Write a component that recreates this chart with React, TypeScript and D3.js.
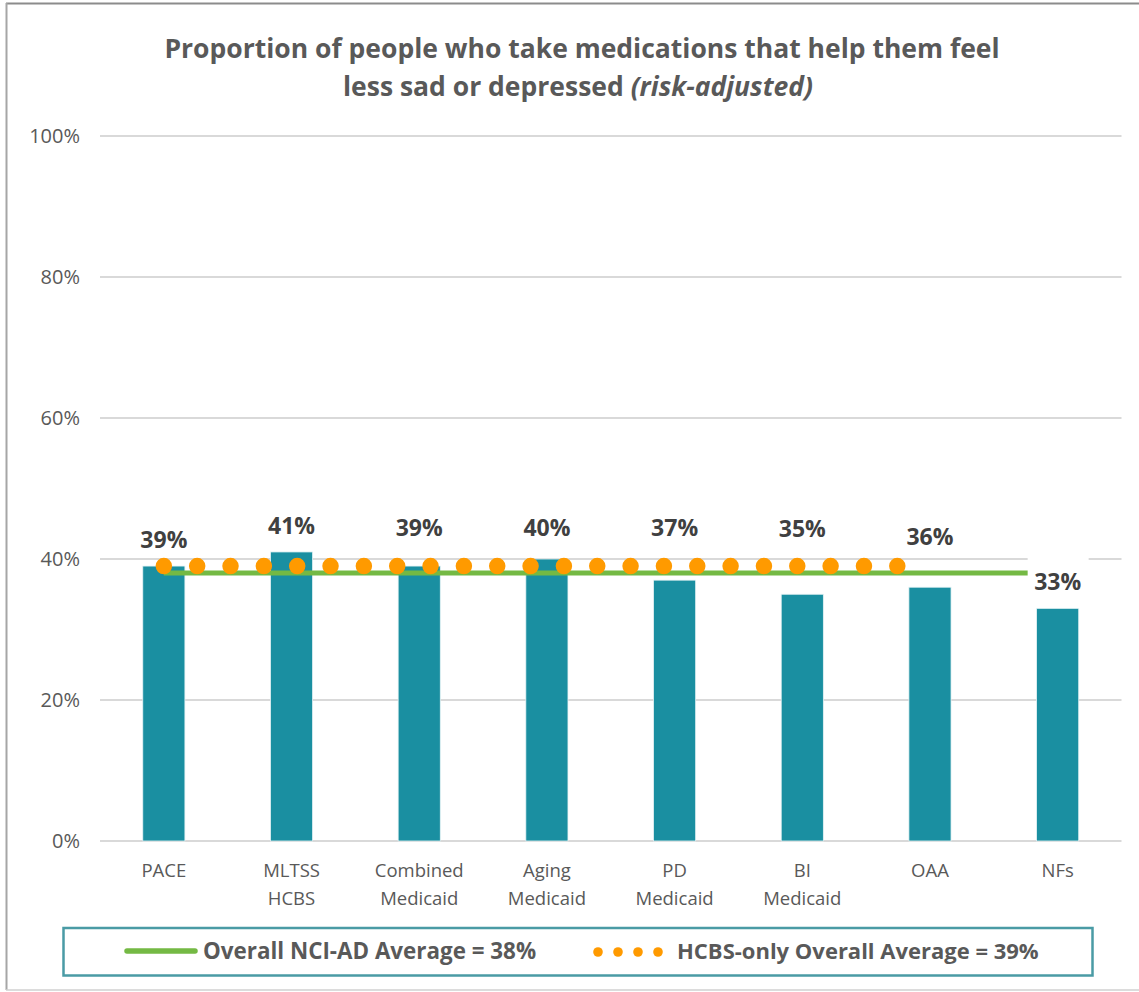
import React from "react";
import * as d3 from "d3";

// ---------- data ----------
const categories: string[][] = [
  ["PACE"],
  ["MLTSS", "HCBS"],
  ["Combined", "Medicaid"],
  ["Aging", "Medicaid"],
  ["PD", "Medicaid"],
  ["BI", "Medicaid"],
  ["OAA"],
  ["NFs"],
];
const values: number[] = [0.39, 0.41, 0.39, 0.4, 0.37, 0.35, 0.36, 0.33];
const overallAverage = 0.38;
const hcbsAverage = 0.39;
const hcbsCategoryCount = 7; // HCBS-only line spans PACE..OAA
const yTicks: number[] = [0, 0.2, 0.4, 0.6, 0.8, 1.0];
const titleLines = ["Proportion of people who take medications that help them feel", "less sad or depressed "];
const titleItalic = "(risk-adjusted)";
const legendLabels = ["Overall NCI-AD Average = 38%", "HCBS-only Overall Average = 39%"];

// ---------- layout / style ----------
const W = 1139;
const H = 992;
const plot = { left: 100, right: 1121.5, top: 136, bottom: 841 };
const BAR = "#1A8FA1";
const GREEN = "#74B944";
const ORANGE = "#FF9A00";
const GRID = "#D9D9D9";
const TEXT = "#595959";
const LABEL = "#404040";
const FONT = "'Open Sans', 'DejaVu Sans', sans-serif";
// manual label nudges (px) like the source chart, to keep labels clear of the lines
const labelNudge = [0, 0, -12, -5, -26, -39, -24, 0];

export default function App() {
  const keys = categories.map((c) => c.join(" "));
  const x = d3.scaleBand<string>().domain(keys).range([plot.left, plot.right]).padding(0);
  const y = d3.scaleLinear().domain([0, 1]).range([plot.bottom, plot.top]);
  const step = x.bandwidth();
  const barW = step * 0.33;
  const cx = (i: number) => (x(keys[i]) as number) + step / 2;

  const lastIdx = keys.length - 1;
  const dotEnd = cx(hcbsCategoryCount - 1) - 16;

  return (
    <div style={{ position: "absolute", left: 0, top: 0 }}>
      <svg width={W} height={H} style={{ display: "block", fontFamily: FONT }}>
        <rect x={0} y={0} width={W} height={H} fill="#fff" />
        {/* outer frame */}
        <line x1={6} x2={W} y1={3.5} y2={3.5} stroke="#8C8C8C" strokeWidth={2} />
        <line x1={6.5} x2={6.5} y1={3} y2={990} stroke="#A6A6A6" strokeWidth={2} />
        <line x1={6} x2={W} y1={990} y2={990} stroke="#D0D0D0" strokeWidth={1.5} />

        {/* title */}
        <text x={582} y={58} textAnchor="middle" fontSize={26.5} fontWeight={700} fill={TEXT}>
          {titleLines[0]}
        </text>
        <text x={578} y={96} textAnchor="middle" fontSize={26.5} fontWeight={700} fill={TEXT}>
          {titleLines[1]}
          <tspan fontStyle="italic">{titleItalic}</tspan>
        </text>

        {/* grid + y ticks */}
        {yTicks.map((t) => (
          <g key={t}>
            <line x1={plot.left} x2={plot.right} y1={y(t)} y2={y(t)} stroke={GRID} strokeWidth={2} />
            <text x={80} y={y(t) + 7} textAnchor="end" fontSize={20} fill={TEXT}>
              {d3.format(".0%")(t)}
            </text>
          </g>
        ))}

        {/* bars */}
        {values.map((v, i) => (
          <rect
            key={keys[i]}
            x={cx(i) - barW / 2}
            y={y(v)}
            width={barW}
            height={y(0) - y(v)}
            fill={BAR}
            stroke="#E6F3F5"
            strokeWidth={0.8}
          />
        ))}

        {/* overall average line */}
        <line x1={cx(0)} x2={cx(lastIdx)} y1={y(overallAverage)} y2={y(overallAverage)} stroke={GREEN} strokeWidth={5} />

        {/* HCBS-only dotted line */}
        <line
          x1={cx(0)}
          x2={dotEnd}
          y1={y(hcbsAverage)}
          y2={y(hcbsAverage)}
          stroke={ORANGE}
          strokeWidth={16.5}
          strokeLinecap="round"
          strokeDasharray={`0 ${(step / 3.83).toFixed(3)}`}
        />

        {/* data labels */}
        {values.map((v, i) => {
          const base = y(v) - 18 + labelNudge[i];
          const isLast = i === lastIdx;
          return (
            <g key={"l" + i}>
              {isLast && <rect x={cx(i) - 30} y={base - 33} width={61} height={43} fill="#fff" />}
              <text x={cx(i)} y={base} textAnchor="middle" fontSize={23} fontWeight={700} fill={LABEL}>
                {d3.format(".0%")(v)}
              </text>
            </g>
          );
        })}

        {/* category labels */}
        {categories.map((lines, i) => (
          <text key={"c" + i} x={cx(i)} y={877} textAnchor="middle" fontSize={18.5} fill={TEXT}>
            {lines.map((l, j) => (
              <tspan key={j} x={cx(i)} dy={j === 0 ? 0 : 28}>
                {l}
              </tspan>
            ))}
          </text>
        ))}

        {/* legend */}
        <rect x={63.5} y={928} width={1029} height={47.5} fill="#fff" stroke="#4A9BA5" strokeWidth={2.5} />
        <line x1={127} x2={195} y1={951} y2={951} stroke={GREEN} strokeWidth={5.5} strokeLinecap="round" />
        <text x={203} y={959} fontSize={22.4} fontWeight={700} fill={TEXT}>
          {legendLabels[0]}
        </text>
        {d3.range(4).map((k) => (
          <circle key={k} cx={598 + k * 20} cy={952} r={4.8} fill={ORANGE} />
        ))}
        <text x={677} y={959} fontSize={22} fontWeight={700} fill={TEXT}>
          {legendLabels[1]}
        </text>
      </svg>
    </div>
  );
}
